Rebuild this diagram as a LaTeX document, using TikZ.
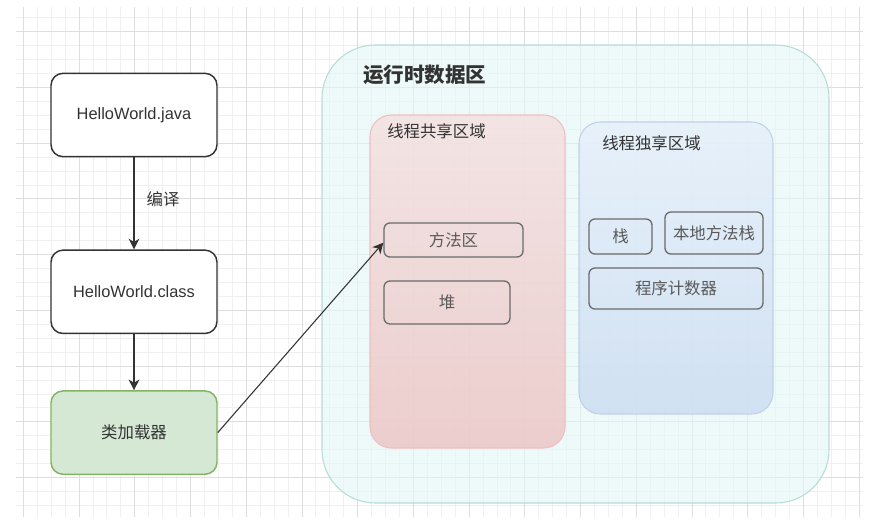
\documentclass[tikz,border=0pt]{standalone}
\usepackage{fontspec}
\setmainfont{Liberation Sans}
\newfontfamily\cjk{Noto Sans CJK SC}
\usepackage{xcolor}
\usepackage{tikz}
\usetikzlibrary{arrows.meta,positioning,fit}

\definecolor{gridminor}{HTML}{F0F0F0}
\definecolor{gridmajor}{HTML}{DEDEDE}
\definecolor{txtdark}{HTML}{333333}
\definecolor{loaderfill}{HTML}{D5E8D4}
\definecolor{loaderline}{HTML}{82B366}
\definecolor{areafill}{HTML}{E3F6F6}
\definecolor{arealine}{HTML}{B8DDD8}
\definecolor{sharedtop}{HTML}{F4E1E1}
\definecolor{sharedbot}{HTML}{ECC6C6}
\definecolor{sharedline}{HTML}{EDC0C0}
\definecolor{owntop}{HTML}{E6F0FA}
\definecolor{ownbot}{HTML}{CCDDF2}
\definecolor{ownline}{HTML}{BFD2E8}
\definecolor{innerline}{HTML}{6B6B6B}
\definecolor{innertxt}{HTML}{5A5A5A}

\begin{document}
\begin{tikzpicture}[
    x=0.75pt, y=-0.75pt,
    node distance=69pt,
    box/.style={draw=txtdark, line width=1.1pt, rounded corners=9pt, fill=white,
                text=txtdark, font=\fontsize{12.3}{14}\selectfont,
                minimum width=124.5pt, minimum height=62.5pt},
    inbox/.style={draw=innerline, line width=1pt, rounded corners=4.5pt, inner sep=0pt,
                  text=innertxt, font=\cjk\fontsize{12.3}{14}\selectfont},
    area/.style={inner sep=0pt, line width=0.8pt},
    regionlabel/.style={anchor=west, inner sep=0pt, text=txtdark,
                        font=\cjk\fontsize{12.3}{14}\selectfont},
    arrow/.style={-{Stealth[length=8pt, width=8pt, inset=2.4pt]}, line width=1pt}
  ]
    \fill[white] (0,0) rectangle (877,526);
    \useasboundingbox (0,0) rectangle (877,526);

    \foreach \i in {0,...,60} {
      \pgfmathsetmacro\gx{23.3+13.93*\i}
      \draw[gridminor, line width=0.6pt] (\gx,7) -- (\gx,517);
    }
    \foreach \i in {0,...,35} {
      \pgfmathsetmacro\gy{17.8+13.93*\i}
      \draw[gridminor, line width=0.6pt] (16,\gy) -- (863,\gy);
    }
    \foreach \i in {0,...,15} {
      \pgfmathsetmacro\gx{23.3+55.72*\i}
      \draw[gridmajor, line width=0.6pt] (\gx,7) -- (\gx,517);
    }
    \foreach \i in {0,...,8} {
      \pgfmathsetmacro\gy{31.7+55.72*\i}
      \draw[gridmajor, line width=0.6pt] (16,\gy) -- (863,\gy);
    }

    \node[area, fit={(322,45) (829,503)}, rounded corners=40pt, draw=arealine,
          fill=areafill, fill opacity=0.6] (rtda) {};
    \node[regionlabel, font=\cjk\bfseries\fontsize{15.4}{18}\selectfont] (rtdalbl)
          at (363,74.5) {运行时数据区};

    \node[area, fit={(370,115) (565,448)}, rounded corners=16pt, draw=sharedline,
          top color=sharedtop, bottom color=sharedbot, fill opacity=0.85] (shared) {};
    \node[regionlabel] (sharedlbl) at (387,131) {线程共享区域};

    \node[area, fit={(579,122) (773,414)}, rounded corners=16pt, draw=ownline,
          top color=owntop, bottom color=ownbot, fill opacity=0.85] (own) {};
    \node[regionlabel] (ownlbl) at (602,143) {线程独享区域};

    \node[inbox, minimum width=104.25pt, minimum height=25.5pt] (ffq) at (453.5,240) {方法区};
    \node[inbox, minimum width=94.5pt, minimum height=32.25pt] (heap) at (447,302.5) {堆};
    \node[inbox, minimum width=47.25pt, minimum height=26.25pt] (stk) at (620.5,236.5) {栈};
    \node[inbox, minimum width=73.5pt, minimum height=31.5pt] (nstk) at (714,233) {本地方法栈};
    \node[inbox, minimum width=130.5pt, minimum height=30.75pt] (pc) at (676,288.5) {程序计数器};

    \node[box] (java) at (134,115) {HelloWorld.java};
    \node[box, below=of java] (class) {HelloWorld.class};
    \node[box, below=42pt of class, fill=loaderfill, draw=loaderline,
          font=\cjk\fontsize{12.3}{14}\selectfont] (loader) {类加载器};

    \draw[arrow, txtdark] (java) -- node[pos=0.45, right=9pt, inner sep=0pt, text=txtdark,
          font=\cjk\fontsize{12.3}{14}\selectfont] (bianyi) {编译} (class);
    \draw[arrow, txtdark] (class) -- (loader);
    \draw[arrow, txtdark, line width=0.8pt] (loader.east) -- ([yshift=-2pt]ffq.west);
  \end{tikzpicture}
\end{document}
